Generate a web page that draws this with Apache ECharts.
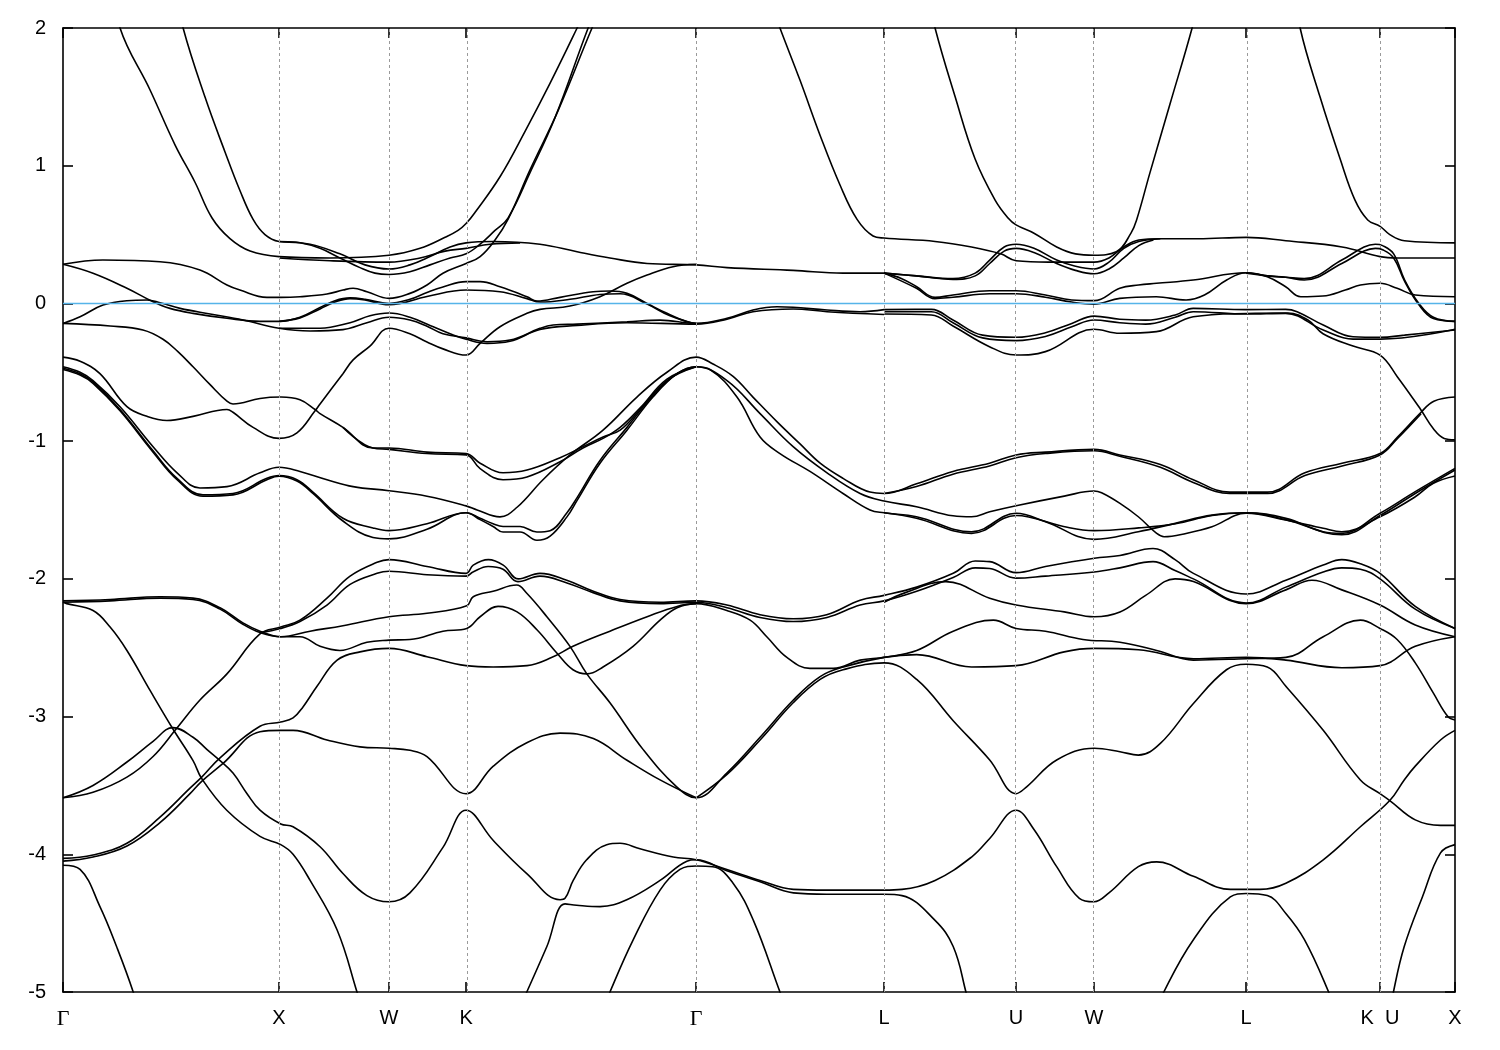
<!DOCTYPE html>
<html>
<head>
<meta charset="utf-8">
<script src="https://cdn.jsdelivr.net/npm/echarts@6/dist/echarts.min.js"></script>
<style>
html,body{margin:0;padding:0;background:#fff;}
#chart{width:1500px;height:1050px;}
</style>
</head>
<body>
<div id="chart"></div>
<script>
// High-symmetry k positions (path length, units of 2π/a) and their labels
const kTicks = [0, 1.0, 1.509, 1.866, 2.931, 3.801, 4.412, 4.773, 5.477, 6.097, 6.444];
const kLabels = ['Γ','X','W','K','Γ','L','U','W','L','K  U','X'];
const energyMin = -5, energyMax = 2, energyStep = 1;
const fermiLevel = 0;

// Bands: [k, E (eV)]
const c1 = [[0.185,2.6],[0.264,2.0],[0.403,1.55],[0.519,1.15],[0.611,0.88],[0.690,0.62],[0.773,0.47],[0.866,0.38],[1.0,0.34],[1.236,0.33],[1.509,0.35],[1.653,0.40],[1.769,0.48],[1.829,0.53],[1.866,0.58],[1.907,0.66],[2.023,0.92],[2.139,1.25],[2.255,1.6],[2.380,2.0],[2.440,2.2]];
const c2 = [[0.519,2.3],[0.556,2.0],[0.657,1.5],[0.750,1.1],[0.819,0.82],[0.880,0.61],[0.935,0.50],[1.0,0.45],[1.097,0.44],[1.190,0.40],[1.282,0.33],[1.375,0.26],[1.444,0.22],[1.509,0.21],[1.606,0.23],[1.699,0.28],[1.792,0.33],[1.866,0.36],[1.931,0.43],[2.0,0.53],[2.060,0.62],[2.162,0.95],[2.278,1.35],[2.431,2.0],[2.486,2.2]];
const c3 = [[1.0,0.33],[1.236,0.31],[1.509,0.30],[1.653,0.33],[1.769,0.38],[1.866,0.40],[1.977,0.43],[2.116,0.44]];
const c4 = [[1.0,0.45],[1.144,0.43],[1.282,0.36],[1.398,0.28],[1.509,0.25],[1.606,0.28],[1.699,0.34],[1.792,0.41],[1.866,0.44],[1.991,0.45],[2.208,0.43],[2.380,0.375],[2.532,0.33],[2.704,0.29],[2.931,0.28],[3.074,0.26],[3.380,0.24],[3.611,0.22],[3.801,0.22]];
const fc = [[0,0.284],[0.185,0.315],[0.449,0.303],[0.634,0.243],[0.759,0.134],[0.819,0.097],[0.944,0.044],[1.009,0.044],[1.097,0.049],[1.222,0.068],[1.296,0.097],[1.343,0.11],[1.407,0.085],[1.509,0.037],[1.606,0.073],[1.685,0.134],[1.759,0.219],[1.866,0.29],[1.931,0.34],[2.0,0.46],[2.060,0.61],[2.162,0.97],[2.292,1.4],[2.449,2.0],[2.509,2.2]];
const f2 = [[0,0.284],[0.139,0.219],[0.296,0.110],[0.417,0.012],[0.495,-0.036],[0.602,-0.072],[0.759,-0.108],[0.912,-0.13],[1.0,-0.13],[1.097,-0.10],[1.190,-0.03],[1.259,0.02],[1.329,0.04],[1.398,0.03],[1.509,0.0],[1.606,0.03],[1.685,0.08],[1.759,0.12],[1.866,0.158],[1.931,0.158],[2.023,0.121],[2.148,0.049],[2.194,0.017],[2.301,0.044],[2.454,0.085],[2.532,0.09],[2.611,0.073],[2.704,0.0],[2.796,-0.072],[2.889,-0.133],[2.931,-0.145]];
const f2b = [[1.0,-0.13],[1.097,-0.105],[1.190,-0.04],[1.259,0.01],[1.329,0.035],[1.398,0.025],[1.509,-0.01],[1.685,0.05],[1.866,0.097],[2.023,0.085],[2.148,0.035],[2.208,0.01],[2.347,0.03],[2.486,0.065],[2.579,0.07],[2.704,-0.005],[2.810,-0.09],[2.931,-0.15]];
const f3 = [[0,-0.145],[0.079,-0.097],[0.185,-0.012],[0.296,0.02],[0.389,0.025],[0.449,0.005],[0.542,-0.036],[0.681,-0.077],[0.833,-0.12],[1.0,-0.18],[1.144,-0.20],[1.296,-0.19],[1.407,-0.14],[1.509,-0.10],[1.606,-0.12],[1.685,-0.165],[1.759,-0.22],[1.866,-0.25],[1.963,-0.278],[2.069,-0.266],[2.208,-0.181],[2.269,-0.157],[2.380,-0.15],[2.611,-0.133],[2.764,-0.121],[2.931,-0.145],[3.074,-0.108],[3.194,-0.048],[3.306,-0.024],[3.380,-0.028],[3.537,-0.048],[3.690,-0.060],[3.801,-0.045]];
const f3b = [[1.0,-0.18],[1.190,-0.18],[1.329,-0.14],[1.421,-0.09],[1.509,-0.07],[1.606,-0.10],[1.699,-0.16],[1.792,-0.22],[1.866,-0.26],[1.963,-0.29],[2.069,-0.275],[2.208,-0.19],[2.380,-0.16],[2.611,-0.14],[2.931,-0.15],[3.074,-0.115],[3.194,-0.06],[3.380,-0.04],[3.537,-0.06],[3.801,-0.08]];
const beta = [[0,-0.39],[0.079,-0.42],[0.171,-0.51],[0.296,-0.75],[0.389,-0.82],[0.481,-0.85],[0.602,-0.82],[0.759,-0.77],[0.787,-0.79],[0.880,-0.90],[1.0,-0.98],[1.083,-0.94],[1.167,-0.78],[1.190,-0.73],[1.296,-0.51],[1.343,-0.41],[1.421,-0.31],[1.509,-0.18],[1.606,-0.22],[1.685,-0.28],[1.759,-0.33],[1.866,-0.375],[1.931,-0.29],[2.023,-0.169],[2.148,-0.072],[2.208,-0.043],[2.347,-0.019],[2.486,0.049],[2.611,0.146],[2.704,0.206],[2.824,0.266],[2.931,0.284]];
const alpha = [[0,-0.145],[0.218,-0.164],[0.370,-0.193],[0.463,-0.26],[0.532,-0.35],[0.602,-0.46],[0.681,-0.59],[0.759,-0.71],[0.787,-0.73],[0.912,-0.69],[1.009,-0.68],[1.097,-0.70],[1.167,-0.77],[1.190,-0.80],[1.296,-0.90],[1.435,-1.05],[1.509,-1.05],[1.685,-1.08],[1.866,-1.09],[1.931,-1.16],[2.037,-1.23],[2.148,-1.21],[2.301,-1.12],[2.407,-1.04],[2.500,-0.97],[2.579,-0.92],[2.671,-0.77],[2.796,-0.56],[2.931,-0.46]];
const alpha2 = [[1.296,-0.90],[1.435,-1.05],[1.509,-1.06],[1.685,-1.09],[1.866,-1.10],[1.931,-1.20],[2.037,-1.28],[2.148,-1.26],[2.301,-1.15],[2.407,-1.05],[2.500,-0.98],[2.579,-0.90],[2.671,-0.76],[2.796,-0.55],[2.931,-0.46]];
const u1 = [[0,-0.46],[0.079,-0.50],[0.139,-0.56],[0.264,-0.75],[0.417,-1.04],[0.528,-1.23],[0.634,-1.34],[0.759,-1.33],[0.912,-1.23],[1.0,-1.19],[1.097,-1.22],[1.222,-1.28],[1.343,-1.33],[1.509,-1.36],[1.685,-1.40],[1.866,-1.47],[1.917,-1.50],[2.023,-1.55],[2.102,-1.48],[2.222,-1.28],[2.347,-1.10],[2.500,-0.92],[2.657,-0.68],[2.796,-0.50],[2.931,-0.39],[3.009,-0.44],[3.102,-0.53],[3.194,-0.68],[3.306,-0.86],[3.412,-1.02],[3.505,-1.16],[3.611,-1.27],[3.736,-1.37],[3.801,-1.38],[3.951,-1.31],[4.120,-1.22],[4.289,-1.16],[4.412,-1.10],[4.548,-1.08],[4.773,-1.06],[4.892,-1.10],[5.080,-1.17],[5.232,-1.28],[5.401,-1.37],[5.477,-1.37],[5.577,-1.37],[5.749,-1.23],[5.921,-1.16],[6.097,-1.09],[6.178,-0.97],[6.287,-0.79],[6.346,-0.71],[6.444,-0.68]];
const zlTop2 = [[3.801,-1.38],[3.951,-1.33],[4.120,-1.24],[4.289,-1.18],[4.412,-1.12],[4.548,-1.09],[4.773,-1.07],[4.892,-1.11],[5.080,-1.19],[5.232,-1.30],[5.401,-1.38],[5.477,-1.38],[5.577,-1.38],[5.749,-1.25],[5.921,-1.18],[6.097,-1.10],[6.178,-0.98],[6.287,-0.80]];
const u2a = [[0,-0.47],[0.079,-0.51],[0.139,-0.57],[0.264,-0.77],[0.417,-1.07],[0.528,-1.27],[0.648,-1.39],[0.787,-1.38],[0.944,-1.27],[1.0,-1.25],[1.083,-1.28],[1.157,-1.37],[1.296,-1.56],[1.435,-1.63],[1.509,-1.65],[1.685,-1.60],[1.866,-1.52],[1.931,-1.57],[1.991,-1.62],[2.037,-1.66],[2.116,-1.66],[2.194,-1.72],[2.255,-1.69],[2.333,-1.55],[2.380,-1.43],[2.486,-1.16],[2.611,-0.92],[2.731,-0.68],[2.843,-0.51],[2.931,-0.46],[2.995,-0.48],[3.120,-0.68],[3.227,-0.97],[3.319,-1.09],[3.458,-1.22],[3.611,-1.38],[3.736,-1.50],[3.801,-1.52],[3.951,-1.549],[4.206,-1.658],[4.412,-1.524],[4.548,-1.585],[4.773,-1.713],[4.978,-1.658],[5.149,-1.597],[5.319,-1.537],[5.477,-1.52],[5.661,-1.561],[5.834,-1.658],[5.920,-1.67],[6.097,-1.524],[6.260,-1.367],[6.444,-1.198]];
const u2b = [[0,-0.48],[0.079,-0.52],[0.139,-0.58],[0.264,-0.78],[0.417,-1.08],[0.528,-1.28],[0.648,-1.40],[0.787,-1.39],[0.944,-1.28],[1.0,-1.255],[1.083,-1.29],[1.157,-1.38],[1.296,-1.58],[1.435,-1.70],[1.509,-1.71],[1.685,-1.64],[1.866,-1.52],[1.931,-1.56],[1.991,-1.60],[2.037,-1.62],[2.116,-1.62],[2.194,-1.66],[2.255,-1.65],[2.333,-1.52],[2.380,-1.41],[2.486,-1.14],[2.611,-0.90],[2.731,-0.67],[2.843,-0.51],[2.931,-0.46],[3.074,-0.56],[3.227,-0.80],[3.380,-1.04],[3.537,-1.23],[3.690,-1.38],[3.801,-1.435],[3.951,-1.476],[4.120,-1.542],[4.206,-1.549],[4.290,-1.513],[4.412,-1.469],[4.635,-1.399],[4.773,-1.362],[4.808,-1.375],[4.893,-1.452],[4.978,-1.549],[5.063,-1.67],[5.097,-1.694],[5.199,-1.67],[5.319,-1.622],[5.477,-1.524],[5.661,-1.573],[5.834,-1.633],[5.920,-1.658],[6.097,-1.549],[6.260,-1.404],[6.344,-1.306],[6.444,-1.253]];
const ld = [[3.801,-1.52],[3.951,-1.56],[4.206,-1.67],[4.412,-1.54],[4.632,-1.62],[4.773,-1.65],[4.980,-1.63],[5.150,-1.60],[5.319,-1.54],[5.477,-1.52],[5.660,-1.57],[5.920,-1.68],[6.097,-1.54],[6.260,-1.38],[6.444,-1.21]];
const lr = [[0,-3.59],[0.139,-3.55],[0.296,-3.44],[0.417,-3.29],[0.519,-3.10],[0.634,-2.88],[0.759,-2.69],[0.912,-2.40],[1.008,-2.35],[1.097,-2.30],[1.222,-2.14],[1.329,-1.98],[1.454,-1.88],[1.509,-1.86],[1.685,-1.91],[1.866,-1.96],[1.899,-1.90],[1.969,-1.86],[2.038,-1.90],[2.108,-2.0],[2.208,-1.96],[2.332,-2.01],[2.455,-2.09],[2.579,-2.15],[2.764,-2.17],[2.931,-2.16],[3.073,-2.19],[3.227,-2.26],[3.381,-2.29],[3.535,-2.26],[3.690,-2.155],[3.801,-2.12],[3.952,-2.06],[4.121,-1.96],[4.223,-1.87],[4.290,-1.875],[4.412,-1.955],[4.548,-1.91],[4.774,-1.85],[4.893,-1.83],[5.046,-1.78],[5.148,-1.86],[5.233,-1.96],[5.477,-2.11],[5.661,-2.01],[5.834,-1.90],[5.920,-1.86],[6.006,-1.89],[6.097,-1.96],[6.260,-2.20],[6.444,-2.36]];
const lr2 = [[0.912,-2.39],[1.008,-2.36],[1.097,-2.31],[1.222,-2.19],[1.329,-2.04],[1.454,-1.96],[1.509,-1.945],[1.685,-1.97],[1.866,-1.98],[1.898,-1.95],[1.968,-1.91],[2.037,-1.93],[2.106,-2.02],[2.208,-1.98],[2.333,-2.03],[2.454,-2.10],[2.579,-2.16],[2.764,-2.18],[2.931,-2.17],[3.074,-2.21],[3.227,-2.28],[3.380,-2.31],[3.537,-2.28],[3.690,-2.19],[3.801,-2.16],[3.952,-2.09],[4.121,-1.99],[4.223,-1.92],[4.290,-1.925],[4.412,-1.995],[4.548,-1.98],[4.774,-1.95],[4.893,-1.92],[5.046,-1.875],[5.148,-1.94],[5.233,-2.00],[5.477,-2.175],[5.661,-2.06],[5.834,-1.95],[5.920,-1.92],[6.006,-1.93],[6.097,-2.0],[6.260,-2.22],[6.444,-2.36]];
const lmid = [[3.801,-2.17],[3.900,-2.10],[4.087,-2.02],[4.290,-2.14],[4.412,-2.19],[4.635,-2.24],[4.774,-2.275],[4.893,-2.24],[5.012,-2.12],[5.148,-2.00],[5.233,-2.02],[5.477,-2.18],[5.661,-2.08],[5.782,-2.01],[5.920,-2.08],[6.097,-2.19],[6.260,-2.335],[6.444,-2.42]];
const gflat = [[0,-2.16],[0.218,-2.15],[0.449,-2.13],[0.602,-2.14],[0.727,-2.21],[0.833,-2.32],[0.912,-2.38],[1.008,-2.42],[1.097,-2.42],[1.190,-2.49],[1.282,-2.52],[1.407,-2.46],[1.509,-2.445],[1.606,-2.44],[1.759,-2.38],[1.869,-2.36],[1.931,-2.275],[2.014,-2.20],[2.102,-2.24],[2.194,-2.37],[2.287,-2.54],[2.361,-2.66],[2.426,-2.69],[2.500,-2.64],[2.639,-2.49],[2.764,-2.30],[2.843,-2.21],[2.931,-2.18],[3.073,-2.23],[3.181,-2.30],[3.258,-2.42],[3.351,-2.57],[3.458,-2.65],[3.566,-2.65],[3.690,-2.59],[3.801,-2.57],[3.952,-2.52],[4.121,-2.38],[4.307,-2.30],[4.412,-2.36],[4.548,-2.38],[4.722,-2.44],[4.893,-2.46],[5.063,-2.52],[5.233,-2.59],[5.477,-2.58],[5.661,-2.57],[5.834,-2.42],[6.006,-2.30],[6.097,-2.36],[6.176,-2.44],[6.260,-2.61],[6.344,-2.83],[6.411,-3.00],[6.444,-3.025]];
const gflat2 = [[0,-2.17],[0.218,-2.16],[0.449,-2.14],[0.602,-2.15],[0.727,-2.22],[0.833,-2.33],[0.912,-2.39],[1.008,-2.42],[1.144,-2.38],[1.296,-2.34],[1.509,-2.275],[1.685,-2.25],[1.869,-2.195],[1.899,-2.13],[1.991,-2.09],[2.100,-2.045],[2.147,-2.105],[2.240,-2.275],[2.347,-2.49],[2.425,-2.69],[2.532,-2.90],[2.686,-3.24],[2.841,-3.51],[2.931,-3.59],[3.073,-3.41],[3.227,-3.15],[3.381,-2.88],[3.505,-2.71],[3.613,-2.64],[3.801,-2.57],[3.952,-2.55],[4.206,-2.64],[4.412,-2.63],[4.635,-2.53],[4.774,-2.505],[4.978,-2.515],[5.233,-2.58],[5.477,-2.57],[5.661,-2.59],[5.920,-2.645],[6.097,-2.63],[6.260,-2.49],[6.444,-2.42]];
const lk1 = [[0,-4.03],[0.139,-4.005],[0.296,-3.92],[0.449,-3.73],[0.588,-3.52],[0.642,-3.44],[0.727,-3.30],[0.912,-3.07],[1.008,-3.04],[1.065,-3.01],[1.111,-2.93],[1.176,-2.78],[1.269,-2.59],[1.375,-2.53],[1.509,-2.505],[1.685,-2.565],[1.866,-2.63],[1.991,-2.64],[2.148,-2.63],[2.264,-2.57],[2.361,-2.49],[2.532,-2.38],[2.704,-2.275],[2.843,-2.20],[2.931,-2.18]];
const lk2 = [[0,-4.05],[0.139,-4.02],[0.296,-3.94],[0.449,-3.77],[0.588,-3.56],[0.642,-3.47],[0.741,-3.34],[0.912,-3.11],[1.008,-3.10],[1.065,-3.10],[1.222,-3.17],[1.375,-3.22],[1.509,-3.23],[1.606,-3.245],[1.685,-3.29],[1.866,-3.56],[1.992,-3.36],[2.147,-3.19],[2.301,-3.12],[2.455,-3.16],[2.609,-3.315],[2.764,-3.46],[2.931,-3.59]];
const ls = [[0,-2.17],[0.017,-2.18],[0.139,-2.23],[0.218,-2.35],[0.296,-2.52],[0.403,-2.81],[0.509,-3.09],[0.602,-3.32],[0.642,-3.45],[0.758,-3.68],[0.912,-3.87],[1.008,-3.93],[1.065,-4.0],[1.144,-4.19],[1.269,-4.55],[1.361,-5.0],[1.398,-5.2]];
const lp = [[0,-3.59],[0.139,-3.50],[0.296,-3.33],[0.417,-3.18],[0.509,-3.08],[0.602,-3.15],[0.667,-3.24],[0.727,-3.32],[0.787,-3.41],[0.852,-3.56],[0.912,-3.68],[1.008,-3.78],[1.065,-3.80],[1.190,-3.945],[1.296,-4.14],[1.407,-4.30],[1.509,-4.345],[1.606,-4.28],[1.759,-3.95],[1.866,-3.68],[1.992,-3.90],[2.147,-4.14],[2.301,-4.33],[2.324,-4.32],[2.362,-4.19],[2.424,-4.04],[2.517,-3.93],[2.579,-3.92],[2.671,-3.96],[2.825,-4.02],[2.931,-4.04],[3.073,-4.11],[3.227,-4.19],[3.381,-4.255],[3.535,-4.26],[3.801,-4.26],[3.884,-4.255],[4.037,-4.19],[4.206,-4.02],[4.290,-3.885],[4.412,-3.68],[4.495,-3.82],[4.600,-4.09],[4.705,-4.32],[4.773,-4.345],[4.842,-4.28],[4.978,-4.09],[5.063,-4.055],[5.233,-4.16],[5.404,-4.255],[5.541,-4.255],[5.661,-4.21],[5.834,-4.04],[6.006,-3.80],[6.142,-3.61],[6.209,-3.46],[6.260,-3.36],[6.377,-3.17],[6.444,-3.10]];
const lbot1 = [[2.116,-5.1],[2.147,-5.0],[2.240,-4.67],[2.324,-4.36],[2.378,-4.37],[2.486,-4.38],[2.610,-4.33],[2.764,-4.19],[2.888,-4.05],[2.931,-4.04],[3.073,-4.12],[3.227,-4.20],[3.381,-4.28],[3.535,-4.29],[3.801,-4.29],[3.884,-4.30],[4.037,-4.48],[4.121,-4.67],[4.180,-5.0],[4.193,-5.1]];
const pG = [[2.509,-5.1],[2.532,-5.0],[2.640,-4.62],[2.764,-4.26],[2.856,-4.11],[2.931,-4.085],[3.008,-4.09],[3.102,-4.21],[3.196,-4.48],[3.319,-5.0],[3.343,-5.1]];
const pL = [[5.077,-5.1],[5.096,-5.0],[5.233,-4.62],[5.404,-4.31],[5.477,-4.285],[5.575,-4.30],[5.661,-4.43],[5.747,-4.62],[5.859,-5.0],[5.878,-5.1]];
const xUp = [[6.151,-5.1],[6.159,-5.0],[6.209,-4.67],[6.293,-4.31],[6.377,-3.99],[6.444,-3.93]];
const gBot = [[0,-4.08],[0.079,-4.11],[0.171,-4.38],[0.248,-4.67],[0.325,-5.0],[0.338,-5.1]];
const luLine = [[2.931,-3.59],[3.074,-3.42],[3.227,-3.17],[3.380,-2.90],[3.505,-2.73],[3.611,-2.66],[3.801,-2.61],[3.952,-2.73],[4.121,-3.03],[4.290,-3.315],[4.412,-3.56],[4.461,-3.51],[4.600,-3.315],[4.774,-3.23],[4.893,-3.255],[4.978,-3.28],[5.080,-3.195],[5.233,-2.905],[5.386,-2.66],[5.477,-2.62],[5.575,-2.64],[5.661,-2.78],[5.834,-3.10],[6.006,-3.46],[6.097,-3.56],[6.142,-3.61],[6.260,-3.75],[6.377,-3.79],[6.444,-3.79]];
const t4 = [[3.273,2.2],[3.319,2.0],[3.412,1.62],[3.505,1.22],[3.597,0.86],[3.676,0.61],[3.750,0.49],[3.801,0.475],[4.037,0.45],[4.206,0.41],[4.341,0.36],[4.412,0.31],[4.562,0.30],[4.773,0.30],[4.842,0.33],[4.911,0.41],[4.980,0.46],[5.080,0.47],[5.255,0.47],[5.477,0.48],[5.661,0.455],[5.921,0.41],[6.097,0.34],[6.176,0.33],[6.444,0.33]];
const t7 = [[4.014,2.2],[4.037,2.0],[4.130,1.5],[4.222,1.05],[4.315,0.75],[4.375,0.62],[4.412,0.57],[4.495,0.51],[4.600,0.41],[4.687,0.36],[4.773,0.35],[4.876,0.375],[4.944,0.51],[4.970,0.606],[5.032,0.95],[5.125,1.45],[5.227,2.0],[5.255,2.2]];
const t6 = [[5.704,2.3],[5.727,2.0],[5.819,1.5],[5.912,1.05],[5.981,0.75],[6.040,0.606],[6.097,0.56],[6.142,0.50],[6.210,0.455],[6.444,0.44]];
const h1 = [[3.801,0.22],[3.951,0.20],[4.120,0.18],[4.223,0.22],[4.290,0.315],[4.357,0.41],[4.412,0.43],[4.495,0.40],[4.600,0.315],[4.687,0.27],[4.773,0.25],[4.842,0.30],[4.911,0.40],[4.980,0.45],[5.080,0.47]];
const h2 = [[3.801,0.22],[3.951,0.20],[4.120,0.175],[4.223,0.20],[4.290,0.29],[4.357,0.38],[4.412,0.40],[4.495,0.37],[4.600,0.29],[4.687,0.24],[4.773,0.215],[4.842,0.25],[4.911,0.33],[4.980,0.42],[5.048,0.46]];
const lu1 = [[3.801,0.22],[3.883,0.18],[3.952,0.121],[4.037,0.044],[4.120,0.061],[4.289,0.092],[4.412,0.092],[4.548,0.061],[4.670,0.025],[4.773,0.02],[4.892,0.11],[4.979,0.134],[5.062,0.146],[5.232,0.17],[5.477,0.223],[5.575,0.194],[5.660,0.121],[5.730,0.049],[5.832,0.054],[5.936,0.097],[6.006,0.134],[6.097,0.146],[6.176,0.11],[6.260,0.061],[6.444,0.049]];
const lu2kh = [[3.801,0.22],[3.951,0.11],[4.036,0.035],[4.120,0.045],[4.289,0.07],[4.412,0.07],[4.548,0.045],[4.670,0.01],[4.773,-0.005],[4.892,0.037],[5.061,0.049],[5.199,0.025],[5.284,0.061],[5.387,0.17],[5.477,0.223],[5.575,0.20],[5.660,0.19],[5.746,0.18],[5.920,0.315],[6.023,0.41],[6.075,0.43],[6.109,0.42],[6.160,0.36],[6.211,0.17],[6.277,0.0],[6.344,-0.10],[6.444,-0.13]];
const kh2 = [[5.477,0.22],[5.575,0.20],[5.660,0.19],[5.746,0.17],[5.920,0.29],[6.023,0.38],[6.075,0.40],[6.109,0.39],[6.160,0.33],[6.211,0.16],[6.277,-0.01],[6.344,-0.11],[6.444,-0.13]];
const n1 = [[3.801,-0.045],[4.020,-0.043],[4.120,-0.12],[4.257,-0.23],[4.412,-0.246],[4.548,-0.213],[4.670,-0.145],[4.773,-0.092],[4.892,-0.115],[5.012,-0.121],[5.149,-0.084],[5.232,-0.036],[5.477,-0.045],[5.660,-0.043],[5.713,-0.06],[5.834,-0.157],[5.972,-0.242],[6.097,-0.246],[6.210,-0.23],[6.444,-0.193]];
const n2 = [[3.801,-0.077],[4.020,-0.084],[4.120,-0.164],[4.289,-0.314],[4.412,-0.375],[4.548,-0.35],[4.773,-0.188],[4.892,-0.217],[5.062,-0.205],[5.232,-0.097],[5.477,-0.073],[5.670,-0.07],[5.763,-0.12],[5.833,-0.22],[5.972,-0.31],[6.097,-0.375],[6.176,-0.53],[6.285,-0.77],[6.344,-0.91],[6.394,-0.98],[6.444,-0.99]];
const n3 = [[3.801,-0.06],[4.020,-0.06],[4.120,-0.14],[4.257,-0.25],[4.412,-0.27],[4.548,-0.24],[4.670,-0.17],[4.773,-0.12],[4.892,-0.14],[5.012,-0.15],[5.149,-0.10],[5.232,-0.06],[5.477,-0.077],[5.660,-0.072],[5.834,-0.193],[5.972,-0.259],[6.097,-0.259],[6.444,-0.188]];

const bands = [c1,c2,c3,c4,fc,f2,f2b,f3,f3b,beta,alpha,alpha2,u1,zlTop2,u2a,u2b,ld,lr,lr2,lmid,gflat,gflat2,lk1,lk2,ls,lp,lbot1,pG,pL,xUp,gBot,luLine,t4,t7,t6,h1,h2,lu1,lu2kh,kh2,n1,n2,n3];

const FONT = 'Liberation Sans, Arial, Helvetica, sans-serif';
const SERIF = 'Liberation Serif, DejaVu Serif, serif';
const kMax = kTicks[kTicks.length - 1];
function kLabel(v) {
  const i = kTicks.findIndex(t => Math.abs(t - v) < 1e-6);
  if (i < 0) return '';
  const s = kLabels[i];
  return s === 'Γ' ? '{g|Γ}' : s;
}

const series = bands.map(b => ({
  type: 'line', data: b, showSymbol: false, symbol: 'none',
  smooth: 0.4, silent: true,
  lineStyle: { color: '#000', width: 1.6 }, z: 3
}));
// high-symmetry guides
series.push({
  type: 'line', data: [], silent: true, z: 1,
  markLine: {
    silent: true, symbol: ['none','none'], label: { show: false },
    lineStyle: { color: '#9a9a9a', type: [3, 3], width: 1 },
    data: kTicks.slice(1, -1).map(k => ({ xAxis: k }))
  }
});
// Fermi level
series.push({
  type: 'line', data: [[0, fermiLevel], [kMax, fermiLevel]], showSymbol: false, symbol: 'none',
  silent: true, lineStyle: { color: '#56B4E9', width: 1.6 }, z: 5
});

const axisLineStyle = { color: '#000', width: 1.6 };
const option = {
  animation: false,
  backgroundColor: '#fff',
  grid: { left: 63, right: 45, top: 28, bottom: 58, containLabel: false },
  xAxis: [
    { type: 'value', min: 0, max: kMax, position: 'bottom',
      axisLine: { show: true, onZero: false, lineStyle: axisLineStyle },
      axisTick: { show: true, inside: true, length: 10, customValues: kTicks, lineStyle: axisLineStyle },
      axisLabel: { show: true, customValues: kTicks, formatter: kLabel, color: '#000', fontSize: 20, fontFamily: FONT, margin: 16, showMinLabel: true, showMaxLabel: true,
        rich: { g: { fontFamily: SERIF, fontSize: 22, color: '#000' } } },
      splitLine: { show: false } },
    { type: 'value', min: 0, max: kMax, position: 'top',
      axisLine: { show: true, onZero: false, lineStyle: axisLineStyle },
      axisTick: { show: true, inside: true, length: 10, customValues: kTicks, lineStyle: axisLineStyle },
      axisLabel: { show: false }, splitLine: { show: false } }
  ],
  yAxis: [
    { type: 'value', min: energyMin, max: energyMax, interval: energyStep, position: 'left',
      axisLine: { show: true, onZero: false, lineStyle: axisLineStyle },
      axisTick: { show: true, inside: true, length: 10, lineStyle: axisLineStyle },
      axisLabel: { color: '#000', fontSize: 20, fontFamily: FONT, margin: 17 },
      splitLine: { show: false } },
    { type: 'value', min: energyMin, max: energyMax, interval: energyStep, position: 'right',
      axisLine: { show: true, onZero: false, lineStyle: axisLineStyle },
      axisTick: { show: true, inside: true, length: 10, lineStyle: axisLineStyle },
      axisLabel: { show: false }, splitLine: { show: false } }
  ],
  series: series
};
const chart = echarts.init(document.getElementById('chart'), null, { renderer: 'canvas' });
chart.setOption(option);
</script>
</body>
</html>
